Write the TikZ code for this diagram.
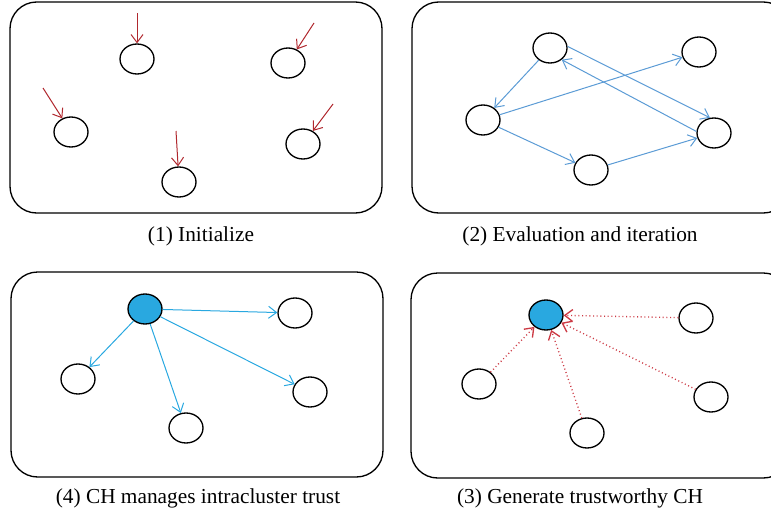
\documentclass[tikz,border=0pt]{standalone}
\usepackage{fontspec}
\setmainfont{Liberation Serif}
\usetikzlibrary{arrows.meta,shapes.geometric}
\definecolor{initred}{HTML}{B0282E}
\definecolor{evalblue}{HTML}{5B9BD5}
\definecolor{chblue}{HTML}{29A8E0}
\definecolor{dotred}{HTML}{CC3A44}
\tikzset{
  panel/.style={draw=black,line width=1pt,rounded corners=20pt},
  sensor/.style={draw=black,line width=1pt,ellipse,minimum width=25.5pt,minimum height=22.5pt,inner sep=0pt},
  chnode/.style={sensor,fill=chblue},
  tip/.style={-{Straight Barb[length=6pt,width=9pt]},line width=0.75pt},
  caption/.style={font=\fontsize{16}{18}\selectfont}
}
\begin{document}
\begin{tikzpicture}[x=0.75pt,y=-0.75pt]
\useasboundingbox (0,0) rectangle (771,518);
\clip (0,0) rectangle (771,518);
% frames
\draw[panel] (10,2) rectangle (382,213);
\draw[panel] (412,2) rectangle (790,213);
\draw[panel] (11,272) rectangle (383,477);
\draw[panel] (411,273) rectangle (790,478);
% (1) initialize
\foreach \n/\x/\y in {a/137/59,b/288/63,c/71/132,d/303/144,e/179/182}
  \node[sensor] (\n) at (\x,\y) {};
\coordinate (sa) at (137,13);
\coordinate (sb) at (314,23);
\coordinate (sc) at (43,88);
\coordinate (sd) at (333,104);
\coordinate (se) at (176,131);
\foreach \n in {a,b,c,d,e}
  \draw[tip,initred] (s\n) -- (\n);
% (2) evaluation and iteration
\foreach \n/\x/\y in {p/550/48,q/699/52,r/483/120,s/714/133,t/591/170}
  \node[sensor] (\n) at (\x,\y) {};
\draw[tip,evalblue] (p) -- (r);
\draw[tip,evalblue] (r) -- (q);
\draw[tip,evalblue] (p.5) -- (s.105);
\draw[tip,evalblue] (s.175) -- (p.-45);
\draw[tip,evalblue] (r) -- (t);
\draw[tip,evalblue] (t) -- (s);
% (4) CH manages intracluster trust
\node[chnode] (ch4) at (145,309) {};
\foreach \n/\x/\y in {u/295/313,v/78/379,w/310/392,z/186/428}
  \node[sensor] (\n) at (\x,\y) {};
\foreach \n in {u,v,w,z}
  \draw[tip,chblue] (ch4) -- (\n);
% (3) generate trustworthy CH
\node[chnode] (ch3) at (546,315) {};
\foreach \n/\x/\y in {m/696/318,k/479/384,l/711/397,j/587/433}
  \node[sensor] (\n) at (\x,\y) {};
\foreach \n in {m,k,l,j}
  \draw[tip,dotred,dotted,line width=1pt] (\n) -- (ch3);
% captions
\node[caption] (t1) at (201,236) {(1) Initialize};
\node[caption] (t2) at (580,236) {(2) Evaluation and iteration};
\node[caption] (t4) at (198,498) {(4) CH manages intracluster trust};
\node[caption] (t3) at (580,498) {(3) Generate trustworthy CH};
\end{tikzpicture}
\end{document}
